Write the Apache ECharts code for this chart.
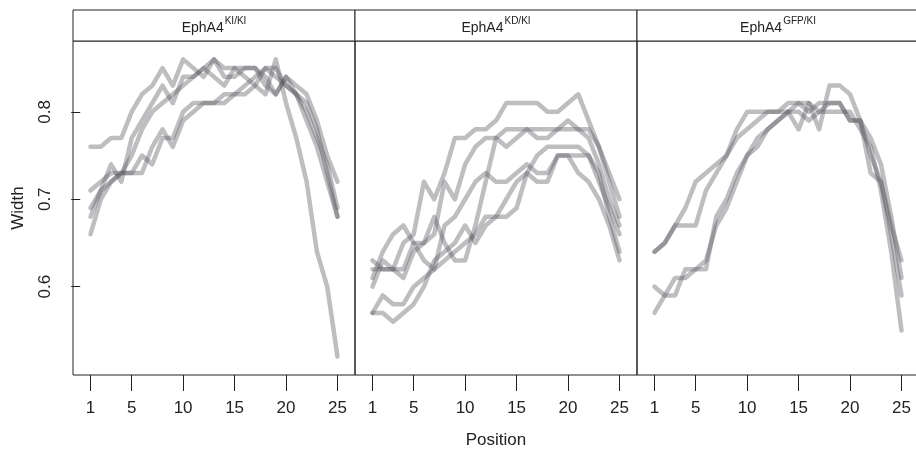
<!DOCTYPE html>
<html>
<head>
<meta charset="utf-8">
<script src="https://cdn.jsdelivr.net/npm/echarts@6/dist/echarts.min.js"></script>
<style>
html,body{margin:0;padding:0;background:#fff;}
#chart{width:916px;height:450px;}
</style>
</head>
<body>
<div id="chart"></div>
<script>
// ---- data ----
const positions = [1,2,3,4,5,6,7,8,9,10,11,12,13,14,15,16,17,18,19,20,21,22,23,24,25];
const xTicks = [1,5,10,15,20,25];
const yTicks = [0.6,0.7,0.8];
const panelNames = ['KI/KI','KD/KI','GFP/KI'];

// EphA4 KI/KI
const ki1 = [0.76,0.76,0.77,0.77,0.80,0.82,0.83,0.85,0.83,0.86,0.85,0.84,0.86,0.85,0.85,0.85,0.85,0.83,0.82,0.84,0.83,0.82,0.79,0.75,0.72];
const ki2 = [0.71,0.72,0.73,0.73,0.73,0.73,0.76,0.78,0.76,0.79,0.80,0.81,0.81,0.81,0.82,0.83,0.84,0.85,0.84,0.83,0.82,0.79,0.76,0.72,0.68];
const ki3 = [0.69,0.71,0.74,0.72,0.77,0.79,0.81,0.83,0.81,0.84,0.84,0.85,0.84,0.83,0.85,0.84,0.83,0.82,0.86,0.81,0.77,0.72,0.64,0.60,0.52];
const ki4 = [0.68,0.71,0.72,0.73,0.75,0.78,0.80,0.81,0.82,0.83,0.84,0.85,0.86,0.84,0.84,0.85,0.85,0.84,0.82,0.84,0.82,0.81,0.78,0.73,0.68];
const ki5 = [0.66,0.70,0.72,0.73,0.73,0.75,0.74,0.77,0.77,0.80,0.81,0.81,0.81,0.82,0.82,0.82,0.83,0.85,0.85,0.83,0.82,0.80,0.77,0.74,0.69];

// EphA4 KD/KI
const kd1 = [0.62,0.62,0.62,0.65,0.66,0.72,0.70,0.73,0.77,0.77,0.78,0.78,0.79,0.81,0.81,0.81,0.81,0.80,0.80,0.81,0.82,0.79,0.76,0.73,0.70];
const kd2 = [0.63,0.62,0.62,0.61,0.64,0.65,0.66,0.72,0.70,0.74,0.76,0.77,0.77,0.78,0.78,0.78,0.78,0.78,0.78,0.78,0.78,0.78,0.76,0.72,0.68];
const kd3 = [0.61,0.64,0.66,0.67,0.65,0.65,0.68,0.65,0.63,0.63,0.67,0.72,0.77,0.76,0.77,0.78,0.77,0.77,0.78,0.79,0.78,0.77,0.74,0.70,0.67];
const kd4 = [0.60,0.63,0.62,0.62,0.65,0.63,0.62,0.67,0.68,0.70,0.72,0.73,0.72,0.72,0.73,0.74,0.73,0.73,0.75,0.75,0.75,0.75,0.72,0.69,0.66];
const kd5 = [0.57,0.59,0.58,0.58,0.60,0.61,0.62,0.63,0.64,0.65,0.66,0.68,0.68,0.68,0.69,0.73,0.75,0.76,0.76,0.76,0.76,0.75,0.73,0.68,0.64];
const kd6 = [0.57,0.57,0.56,0.57,0.58,0.60,0.63,0.64,0.65,0.67,0.65,0.67,0.68,0.70,0.72,0.73,0.72,0.72,0.75,0.75,0.73,0.72,0.70,0.67,0.63];

// EphA4 GFP/KI
const gfp1 = [0.64,0.65,0.67,0.69,0.72,0.73,0.74,0.75,0.78,0.80,0.80,0.80,0.80,0.81,0.81,0.80,0.81,0.81,0.81,0.79,0.79,0.77,0.74,0.68,0.61];
const gfp2 = [0.64,0.65,0.67,0.67,0.67,0.71,0.73,0.75,0.77,0.78,0.79,0.80,0.80,0.80,0.78,0.81,0.78,0.83,0.83,0.82,0.79,0.73,0.72,0.67,0.63];
const gfp3 = [0.60,0.59,0.59,0.62,0.62,0.63,0.67,0.69,0.72,0.75,0.76,0.78,0.79,0.80,0.81,0.81,0.80,0.81,0.81,0.79,0.79,0.75,0.72,0.66,0.59];
const gfp4 = [0.57,0.59,0.61,0.61,0.62,0.62,0.68,0.70,0.73,0.75,0.77,0.78,0.79,0.80,0.80,0.79,0.80,0.80,0.80,0.80,0.78,0.76,0.71,0.64,0.55];

const panels = [[ki1,ki2,ki3,ki4,ki5],[kd1,kd2,kd3,kd4,kd5,kd6],[gfp1,gfp2,gfp3,gfp4]];

// ---- layout ----
const FONT = '"Liberation Sans",Arial,Helvetica,sans-serif';
const panelLeft = [73, 355, 637];
const panelW = 282;
const plotTop = 41, plotH = 334;
const yMin = 0.499, yMax = 0.881;
const xMin = -0.7, xMax = 26.7;

const grids = [], xAxes = [], yAxes = [], series = [], graphics = [];
panelLeft.forEach((l, k) => {
  grids.push({left: l, top: plotTop, width: panelW, height: plotH, show: true, borderColor: '#222', borderWidth: 1,
    backgroundColor: 'transparent', containLabel: false, outerBoundsMode: 'none'});
  xAxes.push({
    type: 'value', gridIndex: k, min: xMin, max: xMax,
    axisLine: {show: false}, splitLine: {show: false},
    axisTick: {show: true, inside: false, length: 16, customValues: xTicks, lineStyle: {color: '#222', width: 1}},
    axisLabel: {show: true, customValues: xTicks, margin: 25, fontSize: 17, color: '#222', fontFamily: FONT},
    name: k === 1 ? 'Position' : '', nameLocation: 'middle', nameGap: 57,
    nameTextStyle: {fontSize: 17, color: '#222', fontFamily: FONT}
  });
  yAxes.push({
    type: 'value', gridIndex: k, min: yMin, max: yMax,
    show: k === 0,
    axisLine: {show: false}, splitLine: {show: false},
    axisTick: {show: k === 0, inside: false, length: 9, customValues: yTicks, lineStyle: {color: '#222', width: 1}},
    axisLabel: {show: k === 0, customValues: yTicks, rotate: 90, margin: 19, fontSize: 17, color: '#222', fontFamily: FONT,
      formatter: v => v.toFixed(1)},
    name: k === 0 ? 'Width' : '', nameLocation: 'middle', nameGap: 46, nameRotate: 90,
    nameTextStyle: {fontSize: 17, color: '#222', fontFamily: FONT}
  });
  panels[k].forEach(vals => {
    series.push({
      type: 'line', xAxisIndex: k, yAxisIndex: k,
      data: positions.map((p, i) => [p, vals[i]]),
      showSymbol: false, silent: true, animation: false,
      lineStyle: {color: '#55555d', width: 4.5, opacity: 0.38, cap: 'round', join: 'round'}
    });
  });
  // strip
  graphics.push({type: 'rect', shape: {x: l, y: 10, width: panelW, height: plotTop - 10},
    style: {fill: '#fff', stroke: '#222', lineWidth: 1}, silent: true});
  graphics.push({type: 'text', x: l + panelW / 2, y: 26, silent: true,
    style: {text: '{a|EphA4}{b|' + panelNames[k] + '}', align: 'center', verticalAlign: 'middle',
      rich: {a: {fontSize: 14, fontFamily: FONT, fill: '#222', lineHeight: 19, verticalAlign: 'bottom'},
             b: {fontSize: 10, fontFamily: FONT, fill: '#222', lineHeight: 19, verticalAlign: 'top', padding: [0,0,0,1]}}}});
});

const chart = echarts.init(document.getElementById('chart'), null, {renderer: 'canvas'});
chart.setOption({
  backgroundColor: '#fff',
  animation: false,
  grid: grids, xAxis: xAxes, yAxis: yAxes, series: series, graphic: graphics
});
</script>
</body>
</html>
